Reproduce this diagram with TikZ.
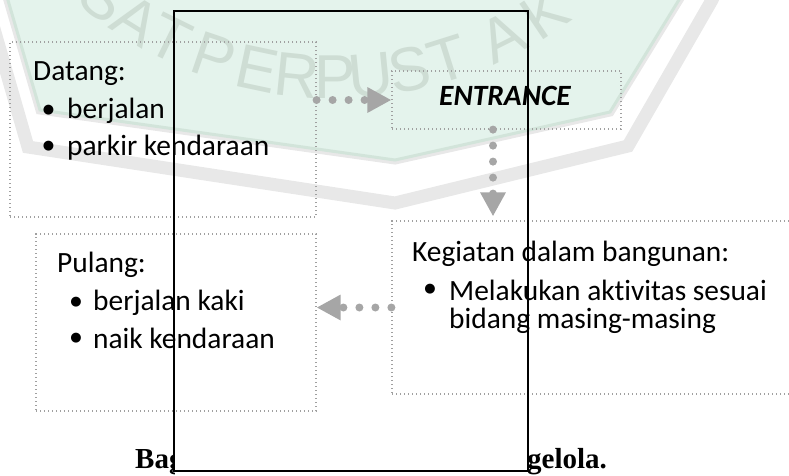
\documentclass[tikz,border=0pt]{standalone}
\usepackage{fontspec}
\setmainfont{Carlito}[RawFeature=-liga]
\newfontfamily\capfont{Liberation Serif}
\newfontfamily\wmfont{Liberation Sans}
\newfontfamily\bulfont{DejaVu Sans}
\usetikzlibrary{arrows.meta}
\definecolor{wmgreen}{HTML}{E4F3EC}
\definecolor{wmedge}{HTML}{D2E4DA}
\definecolor{wmgray}{HTML}{E8E8E8}
\definecolor{wmtext}{HTML}{CEDDD4}
\definecolor{boxline}{HTML}{A0A0A0}
\definecolor{arrowgray}{HTML}{A6A6A6}
\begin{document}
\begin{tikzpicture}[x=1pt,y=-1pt,
  flowbox/.style={draw=boxline, line width=1.2pt, dash pattern=on 1.2pt off 2.8pt, inner sep=0pt},
  txt/.style={inner sep=0pt, anchor=base west, font=\fontsize{29.4}{29.4}\selectfont},
  bul/.style={inner sep=0pt, anchor=center, font=\bulfont\fontsize{13}{13}\selectfont},
  dotarrow/.style={draw=arrowgray, line width=8pt, dash pattern=on 0pt off 16pt, line cap=round,
    -{Triangle[length=24pt 0, width=24pt 0, fill=arrowgray]}},
  wm/.style={text=wmtext, font=\wmfont\fontsize{62}{62}\selectfont, inner sep=0pt},
  captxt/.style={inner sep=0pt, anchor=base west, font=\capfont\bfseries\fontsize{29}{29}\selectfont}]
\useasboundingbox (0,0) rectangle (789,475);
\clip (0,0) rectangle (789,475);
% watermark
\draw[wmgray, line width=13pt, line join=miter] (-10,15) -- (28,147) -- (395,203) -- (628,146) -- (712,0) -- (725,-30);
\draw[wmgray, line width=9pt] (5,-10) -- (40,110) -- (395,160) -- (610,112) -- (685,-10) -- cycle;
\fill[wmgreen] (5,-10) -- (40,110) -- (395,160) -- (610,112) -- (685,-10) -- cycle;
\draw[wmedge, line width=3pt] (5,-10) -- (40,110) -- (395,160) -- (610,112) -- (685,-10) -- cycle;
\foreach \ch/\ang [count=\i] in {S/-38, A/-32, T/-26.2, P/-18.8, E/-12, R/-5.8, P/0, U/5.5, S/11.4, T/17.5, A/26.6, K/34}
  \node[wm, rotate=\ang] (wm\i) at ({335+375*sin(\ang)}, {-298+375*cos(\ang)}) {\ch};
% boxes
\node[flowbox, minimum width=306pt, minimum height=175pt] (datang) at (163,129.5) {};
\node[flowbox, minimum width=229pt, minimum height=58pt] (entrance) at (506.5,100) {};
\node[flowbox, minimum width=280pt, minimum height=177pt] (pulang) at (176,322.5) {};
\node[flowbox, minimum width=428pt, minimum height=173pt] (kegiatan) at (606,307.5) {};
% texts
\node[txt] (t1) at (33,80) {Datang:};
\node[bul] (t1a) at (48.5,110) {●};
\node[txt] (t1b) at (67,118) {berjalan};
\node[bul] (t1c) at (48.5,146) {●};
\node[txt] (t1d) at (67,155) {parkir kendaraan};
\node[txt, font=\fontsize{29.4}{29.4}\selectfont\bfseries\itshape] (t2) at (439,105) {ENTRANCE};
\node[txt] (t3) at (57,272) {Pulang:};
\node[bul] (t3a) at (76,302) {●};
\node[txt] (t3b) at (93,310) {berjalan kaki};
\node[bul] (t3c) at (76,338) {●};
\node[txt] (t3d) at (93,348) {naik kendaraan};
\node[txt] (t4) at (412,261) {Kegiatan dalam bangunan:};
\node[bul] (t4a) at (430,289) {●};
\node[txt] (t4b) at (449,300) {Melakukan aktivitas sesuai};
\node[txt] (t4c) at (449,328) {bidang masing-masing};
% arrows
\draw[dotarrow] (datang.east |- entrance.west) -- (entrance.west);
\draw[dotarrow, shorten >=4pt] ([xshift=-13.5pt]entrance.south) -- ([xshift=-13.5pt]entrance.south |- kegiatan.north);
\draw[dotarrow] (kegiatan.west) -- (kegiatan.west -| pulang.east);
% frame
\node[draw, line width=2pt, minimum width=354pt, minimum height=460pt, inner sep=0pt] (frame) at (351,241) {};
% caption pieces
\begin{scope}
\clip (0,400) rectangle (174,475);
\node[captxt] (cap1) at (135,468) {Bag};
\end{scope}
\begin{scope}
\clip (528,400) rectangle (789,475);
\node[captxt] (cap2) at (527,468) {gelola.};
\end{scope}
\end{tikzpicture}
\end{document}
